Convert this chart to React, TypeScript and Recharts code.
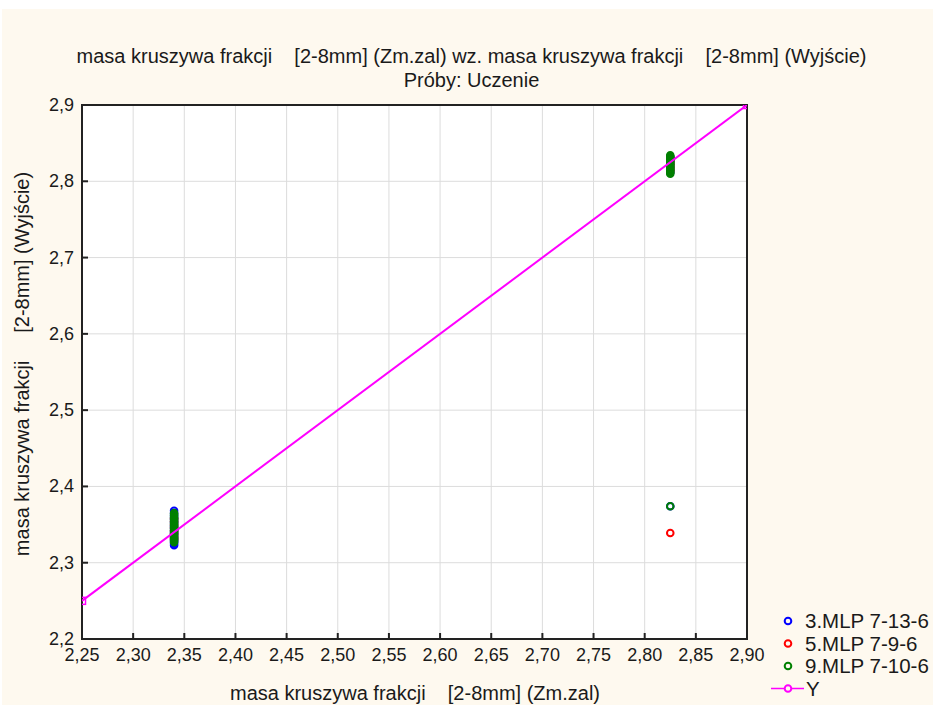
import React from "react";
import {
  CartesianGrid,
  ReferenceArea,
  Scatter,
  ScatterChart,
  XAxis,
  YAxis,
} from "recharts";

const X_TICKS = [2.25, 2.3, 2.35, 2.4, 2.45, 2.5, 2.55, 2.6, 2.65, 2.7, 2.75, 2.8, 2.85, 2.9];
const Y_TICKS = [2.2, 2.3, 2.4, 2.5, 2.6, 2.7, 2.8, 2.9];

const X_LOW = 2.34;
const X_HIGH = 2.825;

const BLUE_LOW = [2.323, 2.325, 2.327, 2.329, 2.331, 2.333, 2.336, 2.338, 2.34, 2.342, 2.345, 2.347, 2.349, 2.352, 2.354, 2.357, 2.359, 2.362, 2.365, 2.368];
const BLUE_HIGH = [2.812, 2.815, 2.818, 2.821, 2.824, 2.827, 2.83, 2.832];
const BLUE_OUT = [2.374];

const RED_LOW = [2.331, 2.334, 2.338, 2.342, 2.346, 2.35, 2.354, 2.358];
const RED_HIGH = [2.814, 2.818, 2.822, 2.826, 2.83];
const RED_OUT = [2.339];

const GREEN_LOW = [2.327, 2.329, 2.331, 2.333, 2.335, 2.337, 2.339, 2.341, 2.343, 2.345, 2.347, 2.349, 2.351, 2.353, 2.355, 2.357, 2.359, 2.361, 2.363, 2.365];
const GREEN_HIGH = [2.81, 2.812, 2.814, 2.816, 2.818, 2.82, 2.822, 2.824, 2.826, 2.828, 2.83, 2.832, 2.834];
const GREEN_OUT = [2.374];

const Y_LINE = [2.25, 2.9];

const toPoints = (low: number[], high: number[], out: number[]) => [
  ...low.map((y) => ({ x: X_LOW, y })),
  ...high.map((y) => ({ x: X_HIGH, y })),
  ...out.map((y) => ({ x: X_HIGH, y })),
];

const blueData = toPoints(BLUE_LOW, BLUE_HIGH, BLUE_OUT);
const redData = toPoints(RED_LOW, RED_HIGH, RED_OUT);
const greenData = toPoints(GREEN_LOW, GREEN_HIGH, GREEN_OUT);
const lineData = Y_LINE.map((v) => ({ x: v, y: v }));

const FONT = "'Liberation Sans', Arial, sans-serif";
const TEXT = "#1a1a1a";
const BG = "#fef9ef";

const ring = (color: string) => (props: any) => (
  <circle cx={props.cx} cy={props.cy} r={3.3} fill="none" stroke={color} strokeWidth={2} />
);

const square = (props: any) => (
  <rect x={props.cx - 3.5} y={props.cy - 3.5} width={7} height={7} fill="none" stroke="#ff00ff" strokeWidth={1.5} />
);

const XTick = (props: any) => {
  const { x, y, payload } = props;
  return (
    <g>
      <line x1={x} y1={y} x2={x} y2={y - 6} stroke="#222" strokeWidth={2} />
      <text x={x} y={y + 22} textAnchor="middle" fontSize={18} fontFamily={FONT} fill={TEXT}>
        {payload.value.toFixed(2).replace(".", ",")}
      </text>
    </g>
  );
};

const YTick = (props: any) => {
  const { x, y, payload } = props;
  return (
    <g>
      <line x1={x} y1={y} x2={x + 6} y2={y} stroke="#222" strokeWidth={2} />
      <text x={x - 8} y={y + 6} textAnchor="end" fontSize={18} fontFamily={FONT} fill={TEXT}>
        {payload.value.toFixed(1).replace(".", ",")}
      </text>
    </g>
  );
};

const LEGEND = [
  { label: "3.MLP 7-13-6", color: "#0000ff", line: false },
  { label: "5.MLP 7-9-6", color: "#ff0000", line: false },
  { label: "9.MLP 7-10-6", color: "#008000", line: false },
  { label: "Y", color: "#ff00ff", line: true },
];

export default function App() {
  return (
    <div style={{ position: "absolute", left: 0, top: 0, width: 933, height: 705, background: "#ffffff" }}>
      <div style={{ position: "absolute", left: 2, top: 9, width: 931, height: 696, background: BG }} />
      <div
        style={{
          position: "absolute",
          left: 0,
          width: 933,
          top: 44,
          textAlign: "center",
          fontFamily: FONT,
          fontSize: 20,
          lineHeight: "24px",
          color: TEXT,
          whiteSpace: "pre",
          paddingLeft: 10,
          boxSizing: "border-box",
        }}
      >
        {"masa kruszywa frakcji    [2-8mm] (Zm.zal) wz. masa kruszywa frakcji    [2-8mm] (Wyjście)"}
        <br />
        {"Próby: Uczenie"}
      </div>
      <div style={{ position: "absolute", left: 0, top: 0 }}>
        <ScatterChart width={933} height={705} margin={{ top: 105, right: 186, bottom: 26, left: 22 }}>
          <CartesianGrid stroke="#dcdcdc" fill="#ffffff" strokeWidth={1} />
          <XAxis
            type="number"
            dataKey="x"
            domain={[2.25, 2.9]}
            ticks={X_TICKS}
            allowDataOverflow
            height={40}
            tickSize={0}
            tickMargin={0}
            tick={<XTick />}
            axisLine={{ stroke: "#222", strokeWidth: 2 }}
            tickLine={false}
          />
          <YAxis
            type="number"
            dataKey="y"
            domain={[2.2, 2.9]}
            ticks={Y_TICKS}
            allowDataOverflow
            width={60}
            tickSize={0}
            tickMargin={0}
            tick={<YTick />}
            axisLine={{ stroke: "#222", strokeWidth: 2 }}
            tickLine={false}
          />
          <ReferenceArea x1={2.25} x2={2.9} y1={2.2} y2={2.9} fill="none" stroke="#222" strokeWidth={2} ifOverflow="visible" />
          <Scatter data={blueData} shape={ring("#0000ff")} isAnimationActive={false} />
          <Scatter data={redData} shape={ring("#ff0000")} isAnimationActive={false} />
          <Scatter data={greenData} shape={ring("#008000")} isAnimationActive={false} />
          <Scatter data={lineData} line={{ stroke: "#ff00ff", strokeWidth: 2 }} shape={square} isAnimationActive={false} />
        </ScatterChart>
      </div>
      <div
        style={{
          position: "absolute",
          left: 22,
          top: 364,
          transform: "translate(-50%, -50%) rotate(-90deg)",
          fontFamily: FONT,
          fontSize: 20,
          color: TEXT,
          whiteSpace: "pre",
        }}
      >
        {"masa kruszywa frakcji     [2-8mm] (Wyjście)"}
      </div>
      <div
        style={{
          position: "absolute",
          left: 415,
          top: 693,
          transform: "translate(-50%, -50%)",
          fontFamily: FONT,
          fontSize: 20,
          color: TEXT,
          whiteSpace: "pre",
        }}
      >
        {"masa kruszywa frakcji    [2-8mm] (Zm.zal)"}
      </div>
      <svg style={{ position: "absolute", left: 0, top: 0 }} width={933} height={705}>
        {LEGEND.map((item, i) => {
          const cy = 621 + i * 22.5;
          return (
            <g key={item.label}>
              {item.line && <line x1={771} x2={804} y1={cy} y2={cy} stroke={item.color} strokeWidth={1.5} />}
              <circle cx={788} cy={cy} r={3.3} fill={item.line ? BG : "none"} stroke={item.color} strokeWidth={2} />
              <text x={item.line ? 806 : 805} y={cy + 7} fontSize={20.5} fontFamily={FONT} fill={TEXT}>
                {item.label}
              </text>
            </g>
          );
        })}
      </svg>
    </div>
  );
}
